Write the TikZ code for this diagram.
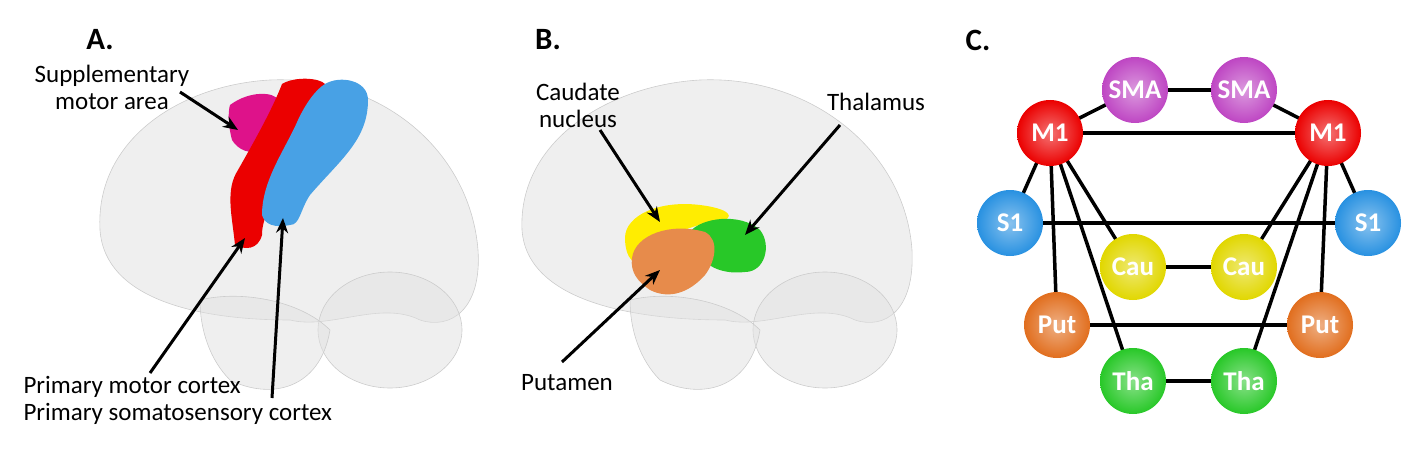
\documentclass[tikz,border=0pt]{standalone}
\usepackage{fontspec}
\setmainfont{Carlito}
\usetikzlibrary{arrows.meta}
\definecolor{smacol}{RGB}{190,70,195}
\definecolor{m1col}{RGB}{235,0,0}
\definecolor{s1col}{RGB}{40,145,225}
\definecolor{caucol}{RGB}{225,215,0}
\definecolor{thacol}{RGB}{40,200,40}
\definecolor{putcol}{RGB}{225,110,30}
\tikzset{
  roi/.style={circle, minimum size=66pt, inner sep=0pt, text=white,
    font=\bfseries\fontsize{27}{27}\selectfont,
    inner color=#1!55!white, outer color=#1},
  link/.style={line width=3.5pt},
  lbl/.style={font=\fontsize{25}{27}\selectfont, align=center},
  pnl/.style={font=\bfseries\fontsize{31}{31}\selectfont},
  pointer/.style={line width=3pt, -{Stealth[length=15pt,width=12pt]}},
  brain/.style={fill=black!12, draw=black!20, line width=0.6pt, fill opacity=0.5},
}
\begin{document}
\begin{tikzpicture}[x=1pt,y=-1pt]
\useasboundingbox (0,0) rectangle (1428,452);

%Panel A: brain
\draw [brain] (100,230) .. controls (95,140) and (180,85) .. (270,80) .. controls (380,75) and (470,150) .. (478,250) .. controls (482,310) and (450,330) .. (420,320) .. controls (380,300) and (330,330) .. (290,320) .. controls (200,320) and (105,300) .. (100,230) -- cycle;
\draw [brain] (390,330) ellipse [x radius=72, y radius=58];
\draw [brain] (200,300) .. controls (240,290) and (300,300) .. (330,330) .. controls (320,390) and (270,400) .. (230,380) .. controls (210,360) and (200,330) .. (200,300) -- cycle;
%SMA
\fill [magenta!85!violet] (230,105) .. controls (250,90) and (275,92) .. (278,100) -- (262,150) .. controls (250,155) and (238,150) .. (232,140) .. controls (228,125) and (228,112) .. (230,105) -- cycle;
%M1
\fill [m1col] (282,84) .. controls (295,76) and (320,78) .. (325,84) .. controls (318,120) and (300,150) .. (285,175) .. controls (275,200) and (262,215) .. (262,235) .. controls (258,250) and (245,250) .. (235,245) .. controls (232,215) and (225,190) .. (238,170) .. controls (255,140) and (272,110) .. (282,84) -- cycle;
%S1
\fill [s1col!85!white] (325,84) .. controls (340,75) and (368,80) .. (368,100) .. controls (368,140) and (340,160) .. (310,195) .. controls (300,210) and (300,225) .. (290,225) .. controls (275,228) and (265,225) .. (262,215) .. controls (262,180) and (285,150) .. (298,120) .. controls (305,105) and (315,90) .. (325,84) -- cycle;
\node [pnl] (pa) at (100,40) {A.};
\node [lbl] (sma) at (112,87) {Supplementary\\motor area};
\node [lbl, anchor=west] (m1) at (20,387) {Primary motor cortex};
\node [lbl, anchor=west] (s1) at (20,414) {Primary somatosensory cortex};
\coordinate (smaend) at (238,130);
\coordinate (m1end) at (245,238);
\coordinate (s1end) at (283,218);
\draw [pointer] (180,92) -- (smaend);
\draw [pointer] (150,373) -- (m1end);
\draw [pointer] (272,398) -- (s1end);

%Panel B: brain
\draw [brain] (522,230) .. controls (518,140) and (610,85) .. (700,80) .. controls (810,75) and (905,150) .. (912,250) .. controls (915,310) and (885,330) .. (855,320) .. controls (815,300) and (765,330) .. (725,320) .. controls (630,320) and (527,300) .. (522,230) -- cycle;
\draw [brain] (825,330) ellipse [x radius=72, y radius=58];
\draw [brain] (630,300) .. controls (670,290) and (730,300) .. (760,330) .. controls (750,390) and (700,400) .. (660,380) .. controls (640,360) and (630,330) .. (630,300) -- cycle;
%caudate, thalamus, putamen
\fill [yellow!95!orange] (625,238) .. controls (625,215) and (660,200) .. (700,205) .. controls (725,208) and (735,215) .. (725,220) .. controls (690,225) and (660,235) .. (650,262) .. controls (635,270) and (625,258) .. (625,238) -- cycle;
\fill [thacol] (690,232) .. controls (700,218) and (740,212) .. (760,230) .. controls (772,245) and (765,272) .. (745,272) .. controls (720,275) and (695,265) .. (690,232) -- cycle;
\fill [putcol!80!white] (632,258) .. controls (635,235) and (670,222) .. (705,232) .. controls (720,240) and (715,262) .. (705,275) .. controls (690,292) and (670,300) .. (650,290) .. controls (638,282) and (630,272) .. (632,258) -- cycle;
\node [pnl] (pb) at (548,40) {B.};
\node [lbl] (cau) at (578,105) {Caudate\\nucleus};
\node [lbl] (tha) at (876,102) {Thalamus};
\node [lbl] (put) at (567,383) {Putamen};
\coordinate (cauend) at (660,222);
\coordinate (thaend) at (745,235);
\coordinate (putend) at (660,270);
\draw [pointer] (600,130) -- (cauend);
\draw [pointer] (840,125) -- (thaend);
\draw [pointer] (562,362) -- (putend);

%Panel C: network
\node [pnl] (pc) at (978,40) {C.};
\path (1135,90) coordinate (smal) (1244,90) coordinate (smar)
  (1050,133) coordinate (m1l) (1328,133) coordinate (m1r)
  (1010,223) coordinate (s1l) (1368,223) coordinate (s1r)
  (1133,267) coordinate (caul) (1244,267) coordinate (caur)
  (1057,325) coordinate (putl) (1320,325) coordinate (putr)
  (1133,381) coordinate (thal) (1244,381) coordinate (thar);
\foreach \a/\b in {smal/smar, smal/m1l, smar/m1r, m1l/m1r, m1l/s1l, m1r/s1r, s1l/s1r,
  m1l/caul, m1l/putl, m1l/thal, m1r/caur, m1r/putr, m1r/thar, caul/caur, putl/putr, thal/thar}
  \draw [link] (\a) -- (\b);
\node [roi=smacol] (nsmal) at (smal) {SMA};
\node [roi=smacol] (nsmar) at (smar) {SMA};
\node [roi=m1col] (nm1l) at (m1l) {M1};
\node [roi=m1col] (nm1r) at (m1r) {M1};
\node [roi=s1col] (ns1l) at (s1l) {S1};
\node [roi=s1col] (ns1r) at (s1r) {S1};
\node [roi=caucol] (ncaul) at (caul) {Cau};
\node [roi=caucol] (ncaur) at (caur) {Cau};
\node [roi=putcol] (nputl) at (putl) {Put};
\node [roi=putcol] (nputr) at (putr) {Put};
\node [roi=thacol] (nthal) at (thal) {Tha};
\node [roi=thacol] (nthar) at (thar) {Tha};
\end{tikzpicture}
\end{document}
